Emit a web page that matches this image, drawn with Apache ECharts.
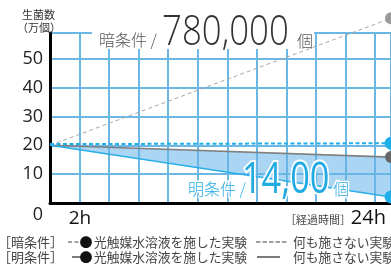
<!DOCTYPE html>
<html><head><meta charset="utf-8">
<script src="https://cdn.jsdelivr.net/npm/echarts@6/dist/echarts.min.js"></script>
<style>html,body{margin:0;padding:0;background:#fff}#c{width:391px;height:267px}</style>
</head><body><div id="c"></div>
<script>
// ---- data ----
const hours = [0, 24];
const darkPhoto = [20.4, 20.7];   // 暗条件 光触媒
const darkNone = [20, 64];        // 暗条件 何も施さない
const lightPhoto = [20, 2.1];     // 明条件 光触媒
const lightNone = [20, 15.9];     // 明条件 何も施さない
const xTickLabels = ['2h', '24h'];
const yAxisName = ['生菌数', '（万個）'];

const CJK = '"Noto Sans CJK JP", "Noto Sans", sans-serif';
const LAT = '"Open Sans", "Noto Sans", sans-serif';
const GRID = '#6db7e5';
const BLUE = '#1eaee8';

function pts(arr) { return hours.map((h, i) => [h, arr[i]]); }
function withEnd(arr, color, size) {
  const d = pts(arr);
  d[d.length - 1] = { value: d[d.length - 1], symbol: 'circle', symbolSize: size, itemStyle: { color: color } };
  return d;
}

const chart = echarts.init(document.getElementById('c'));
chart.setOption({
  animation: false,
  grid: { left: 50, right: 0, top: 33, bottom: 64 },
  xAxis: [
    { type: 'value', min: 0, max: 24, show: false, position: 'top' },
    { type: 'value', min: 0, max: 11.54, interval: 1, position: 'bottom',
      axisLine: { show: true, lineStyle: { color: '#000', width: 3 } },
      axisTick: { show: false }, axisLabel: { show: false },
      splitLine: { show: true, lineStyle: { color: GRID, width: 2 } } }
  ],
  yAxis: {
    type: 'value', min: 0, max: 58.9, interval: 10,
    axisLine: { show: true, lineStyle: { color: '#000', width: 3 } },
    axisTick: { show: false },
    axisLabel: { color: '#222', fontSize: 18, fontFamily: LAT, margin: 7,
      showMaxLabel: false, formatter: v => (v === 0 ? '' : String(v)) },
    splitLine: { show: true, lineStyle: { color: GRID, width: 2 } }
  },
  series: [
    { type: 'custom', xAxisIndex: 0, yAxisIndex: 0, data: [[0, 0]], silent: true, z: 1,
      renderItem: function (params, api) {
        const top = hours.map((h, i) => api.coord([h, lightNone[i]]));
        const bot = hours.map((h, i) => api.coord([h, lightPhoto[i]])).reverse();
        return { type: 'polygon', shape: { points: top.concat(bot) }, style: { fill: 'rgba(100,180,235,0.55)' } };
      } },
    { type: 'line', xAxisIndex: 0, data: withEnd(darkNone, '#9a9a9a', 12), symbol: 'none', clip: false,
      lineStyle: { color: '#a5a5a5', width: 1, type: [4, 3] } },
    { type: 'line', xAxisIndex: 0, data: withEnd(lightNone, '#666', 12), symbol: 'none', clip: false,
      lineStyle: { color: '#808080', width: 1.6 } },
    { type: 'line', xAxisIndex: 0, data: withEnd(lightPhoto, BLUE, 13), symbol: 'none', clip: false,
      lineStyle: { color: '#2aaee6', width: 1.5 } },
    { type: 'line', xAxisIndex: 0, data: withEnd(darkPhoto, BLUE, 13), symbol: 'none', clip: false,
      lineStyle: { color: BLUE, width: 2, type: [4, 2.5] } }
  ],
  graphic: [
    { type: 'rect', z: 1, shape: { x: 92, y: 30, width: 222, height: 19 }, style: { fill: '#fff' } },
    { type: 'text', z: 100, style: { text: yAxisName[0], x: 22, y: 14.5, fill: '#333', fontSize: 11, fontFamily: CJK, verticalAlign: 'middle' } },
    { type: 'text', z: 100, style: { text: yAxisName[1], x: 17, y: 27.5, fill: '#333', fontSize: 11, fontFamily: CJK, verticalAlign: 'middle' } },
    { type: 'text', z: 100, style: { text: '0', x: 38, y: 215, fill: '#222', fontSize: 18, fontFamily: LAT, align: 'center', verticalAlign: 'middle' } },
    { type: 'text', z: 100, style: { text: xTickLabels[0], x: 80, y: 219, fill: '#111', fontSize: 19, fontFamily: LAT, align: 'center', verticalAlign: 'middle' } },
    { type: 'text', z: 100, style: { text: xTickLabels[1], x: 386, y: 218, fill: '#111', fontSize: 20, fontFamily: LAT, align: 'right', verticalAlign: 'middle' } },
    { type: 'text', z: 100, style: { text: '［経過時間］', x: 285, y: 220, fill: '#444', fontSize: 11, fontFamily: CJK, verticalAlign: 'middle' } },
    // dark annotation
    { type: 'text', z: 100, style: { text: '暗条件 /', x: 99, y: 40, fill: '#555', fontSize: 16, fontFamily: CJK, fontWeight: 300, verticalAlign: 'middle' } },
    { type: 'text', z: 100, x: 162, y: 33, scaleX: 0.81, style: { text: '780,000', x: 0, y: 0, fill: '#333', fontSize: 43, fontFamily: LAT, fontWeight: 300, verticalAlign: 'middle' } },
    { type: 'text', z: 100, style: { text: '個', x: 297, y: 41, fill: '#555', fontSize: 16, fontFamily: CJK, fontWeight: 300, verticalAlign: 'middle' } },
    // light annotation
    { type: 'text', z: 100, style: { text: '明条件 /', x: 188, y: 188.5, fill: '#29abe2', fontSize: 16, fontFamily: CJK, fontWeight: 300, verticalAlign: 'middle', stroke: '#fff', lineWidth: 3, strokeFirst: true } },
    { type: 'text', z: 100, x: 242, y: 180, scaleX: 0.78, style: { text: '14,00', x: 0, y: 0, fill: '#22aae2', fontSize: 44, fontFamily: LAT, fontWeight: 'normal', verticalAlign: 'middle', stroke: '#fff', lineWidth: 4, strokeFirst: true } },
    { type: 'text', z: 100, style: { text: '個', x: 333, y: 189, fill: '#29abe2', fontSize: 16, fontFamily: CJK, fontWeight: 300, verticalAlign: 'middle', stroke: '#fff', lineWidth: 3, strokeFirst: true } },
    // legend row 1
    { type: 'text', z: 100, style: { text: '［暗条件］', x: -2, y: 242, fill: '#444', fontSize: 13, fontFamily: CJK, verticalAlign: 'middle' } },
    { type: 'line', z: 100, shape: { x1: 68, y1: 242, x2: 79, y2: 242 }, style: { stroke: '#444', lineWidth: 1.2, lineDash: [4, 2.5] } },
    { type: 'text', z: 100, style: { text: '●', x: 79.5, y: 242, fill: '#111', fontSize: 13, fontFamily: CJK, verticalAlign: 'middle' } },
    { type: 'text', z: 100, style: { text: '光触媒水溶液を施した実験', x: 94, y: 242, fill: '#444', fontSize: 12.75, fontFamily: CJK, verticalAlign: 'middle' } },
    { type: 'line', z: 100, shape: { x1: 256, y1: 242, x2: 288, y2: 242 }, style: { stroke: '#444', lineWidth: 1.2, lineDash: [4.5, 2] } },
    { type: 'text', z: 100, style: { text: '何も施さない実験', x: 293, y: 242, fill: '#444', fontSize: 12.75, fontFamily: CJK, verticalAlign: 'middle' } },
    // legend row 2
    { type: 'text', z: 100, style: { text: '［明条件］', x: -2, y: 257, fill: '#444', fontSize: 13, fontFamily: CJK, verticalAlign: 'middle' } },
    { type: 'line', z: 100, shape: { x1: 72, y1: 257, x2: 82, y2: 257 }, style: { stroke: '#444', lineWidth: 1.4 } },
    { type: 'text', z: 100, style: { text: '●', x: 79.5, y: 257, fill: '#111', fontSize: 13, fontFamily: CJK, verticalAlign: 'middle' } },
    { type: 'text', z: 100, style: { text: '光触媒水溶液を施した実験', x: 94, y: 257, fill: '#444', fontSize: 12.75, fontFamily: CJK, verticalAlign: 'middle' } },
    { type: 'line', z: 100, shape: { x1: 257, y1: 257, x2: 280, y2: 257 }, style: { stroke: '#444', lineWidth: 1.4 } },
    { type: 'text', z: 100, style: { text: '何も施さない実験', x: 293, y: 257, fill: '#444', fontSize: 12.75, fontFamily: CJK, verticalAlign: 'middle' } }
  ]
});
</script></body></html>
